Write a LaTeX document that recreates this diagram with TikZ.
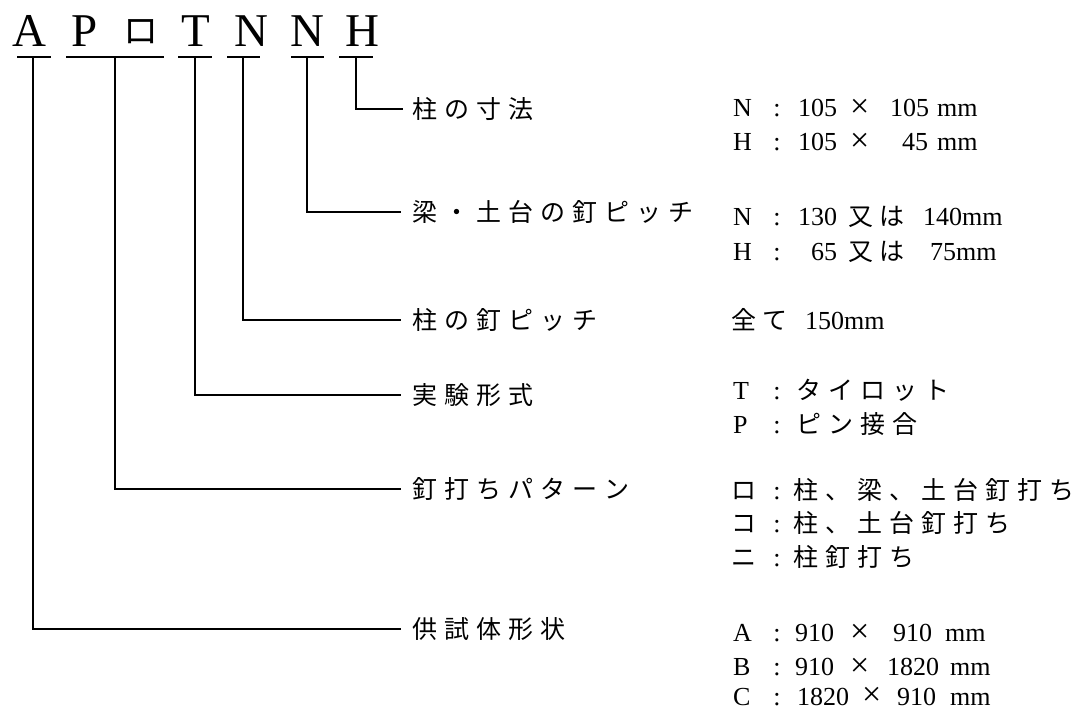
\documentclass[tikz,border=0pt]{standalone}
\usepackage{fontspec}
\setmainfont{Liberation Serif}
\newfontfamily\jpfont{Noto Sans CJK JP}
\makeatletter
\newcommand\jsp[2]{\def\jsp@k{#1}\@tfor\jsp@c:=#2\do{\jsp@c\kern\jsp@k}}
\makeatother
\begin{document}
\begin{tikzpicture}[x=1pt,y=-1pt,
  lat/.style={font=\fontsize{26}{26}\selectfont, inner sep=0pt, anchor=base west},
  times/.style={font=\fontsize{34}{34}\selectfont, inner sep=0pt, anchor=base west},
  jp/.style={font=\jpfont\fontsize{25}{25}\selectfont, inner sep=0pt, anchor=base west},
  colon/.style={font=\fontsize{26}{26}\selectfont, inner sep=0pt, anchor=base},
  big/.style={font=\fontsize{47}{47}\selectfont, inner sep=0pt, anchor=base},
  lbl/.style={font=\jpfont\fontsize{25}{25}\selectfont, inner sep=0pt, anchor=west},
  ln/.style={line width=1.1pt, line cap=rect}]
\useasboundingbox (0,0) rectangle (1081,711);

% top code letters
\node[big] (lA) at (29.5,47) {A};
\node[big] (lP) at (85,47) {P};
\node[font=\jpfont\fontsize{35}{35}\selectfont, inner sep=0pt] (lQ) at (141,31.5) {ロ};
\node[big] (lT) at (196,47) {T};
\node[big] (lN1) at (251,47) {N};
\node[big] (lN2) at (307,47) {N};
\node[big] (lH) at (362,47) {H};

% underlines
\coordinate (uA1) at (18,57);  \coordinate (uA2) at (50,57);
\coordinate (uP1) at (67,57);  \coordinate (uP2) at (163,57);
\coordinate (uT1) at (179,57); \coordinate (uT2) at (211,57);
\coordinate (uN11) at (228,57); \coordinate (uN12) at (259,57);
\coordinate (uN21) at (292,57); \coordinate (uN22) at (323,57);
\coordinate (uH1) at (340,57); \coordinate (uH2) at (372,57);
\draw[ln] (uA1) -- (uA2);
\draw[ln] (uP1) -- (uP2);
\draw[ln] (uT1) -- (uT2);
\draw[ln] (uN11) -- (uN12);
\draw[ln] (uN21) -- (uN22);
\draw[ln] (uH1) -- (uH2);

% left labels
\node[lbl] (labH) at (412,109) {\jsp{7pt}{柱の寸法}};
\node[lbl] (labN2) at (412,212) {\jsp{7pt}{梁・土台の釘ピッチ}};
\node[lbl] (labN1) at (412,320) {\jsp{7pt}{柱の釘ピッチ}};
\node[lbl] (labT) at (412,395) {\jsp{7pt}{実験形式}};
\node[lbl] (labP) at (412,489) {\jsp{7pt}{釘打ちパターン}};
\node[lbl] (labA) at (412,629) {\jsp{7pt}{供試体形状}};

% connectors
\coordinate (vA) at (33,57);
\coordinate (vP) at (115,57);
\coordinate (vT) at (195,57);
\coordinate (vN1) at (243,57);
\coordinate (vN2) at (307,57);
\coordinate (vH) at (356,57);
\draw[ln] (vH) |- ([xshift=-10pt]labH.west);
\draw[ln] (vN2) |- ([xshift=-12pt]labN2.west);
\draw[ln] (vN1) |- ([xshift=-12pt]labN1.west);
\draw[ln] (vT) |- ([xshift=-12pt]labT.west);
\draw[ln] (vP) |- ([xshift=-12pt]labP.west);
\draw[ln] (vA) |- ([xshift=-12pt]labA.west);

% right column
% row 1
\node[lat] (r1a) at (733,117) {N};
\node[colon] (r1b) at (777,117) {:};
\node[lat] (r1c) at (798,117) {105};
\node[times] (r1d) at (850,118) {×};
\node[lat] (r1e) at (890,117) {105};
\node[lat] (r1f) at (937,117) {mm};
% row 2
\node[lat] (r2a) at (733,151) {H};
\node[colon] (r2b) at (777,151) {:};
\node[lat] (r2c) at (798,151) {105};
\node[times] (r2d) at (850,152) {×};
\node[lat] (r2e) at (902,151) {45};
\node[lat] (r2f) at (937,151) {mm};
% row 3
\node[lat] (r3a) at (733,226) {N};
\node[colon] (r3b) at (777,226) {:};
\node[lat] (r3c) at (798,226) {130};
\node[jp] (r3d) at (848,226) {\jsp{6pt}{又は}};
\node[lat] (r3e) at (923,226) {140mm};
% row 4
\node[lat] (r4a) at (733,261) {H};
\node[colon] (r4b) at (777,261) {:};
\node[lat] (r4c) at (811,261) {65};
\node[jp] (r4d) at (848,261) {\jsp{6pt}{又は}};
\node[lat] (r4e) at (930,261) {75mm};
% row 5
\node[jp] (r5a) at (731,329) {\jsp{6pt}{全て}};
\node[lat] (r5b) at (805,329) {150mm};
% row 6-7
\node[lat] (r6a) at (733,399) {T};
\node[colon] (r6b) at (777,399) {:};
\node[jp] (r6c) at (796,399) {\jsp{7pt}{タイロット}};
\node[lat] (r7a) at (733,433) {P};
\node[colon] (r7b) at (777,433) {:};
\node[jp] (r7c) at (796,433) {\jsp{7pt}{ピン接合}};
% row 8-10
\node[jp] (r8a) at (731,499) {ロ};
\node[colon] (r8b) at (777,499) {:};
\node[jp] (r8c) at (793,499) {\jsp{7pt}{柱、梁、土台釘打ち}};
\node[jp] (r9a) at (731,532) {コ};
\node[colon] (r9b) at (777,532) {:};
\node[jp] (r9c) at (793,532) {\jsp{7pt}{柱、土台釘打ち}};
\node[jp] (r10a) at (731,566) {ニ};
\node[colon] (r10b) at (777,566) {:};
\node[jp] (r10c) at (793,566) {\jsp{7pt}{柱釘打ち}};
% row 11-13
\node[lat] (r11a) at (733,641) {A};
\node[colon] (r11b) at (777,641) {:};
\node[lat] (r11c) at (795,641) {910};
\node[times] (r11d) at (850,642) {×};
\node[lat] (r11e) at (893,641) {910};
\node[lat] (r11f) at (945,641) {mm};
\node[lat] (r12a) at (733,675) {B};
\node[colon] (r12b) at (777,675) {:};
\node[lat] (r12c) at (795,675) {910};
\node[times] (r12d) at (850,676) {×};
\node[lat] (r12e) at (887,675) {1820};
\node[lat] (r12f) at (950,675) {mm};
\node[lat] (r13a) at (733,705) {C};
\node[colon] (r13b) at (777,705) {:};
\node[lat] (r13c) at (797,705) {1820};
\node[times] (r13d) at (862,705) {×};
\node[lat] (r13e) at (897,705) {910};
\node[lat] (r13f) at (950,705) {mm};
\end{tikzpicture}
\end{document}
